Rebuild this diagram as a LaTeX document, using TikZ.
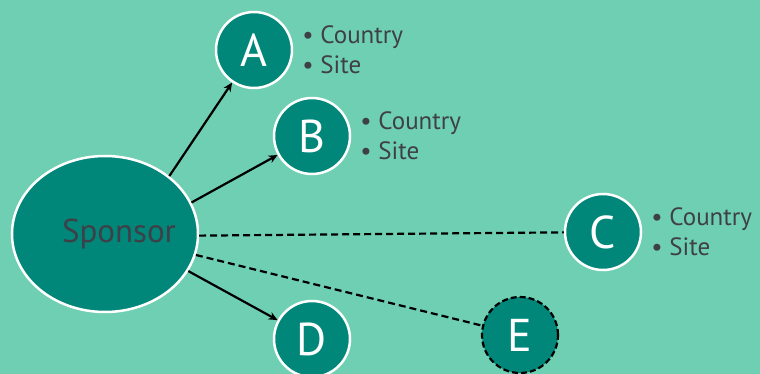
\documentclass[tikz,border=0pt]{standalone}
\usepackage{fontspec}
\setmainfont{PT Sans}
\usetikzlibrary{positioning,shapes.geometric,arrows.meta}
\definecolor{bgmint}{RGB}{111,207,178}
\definecolor{tealfill}{RGB}{0,135,122}
\definecolor{darktext}{RGB}{62,64,72}
\tikzset{
  party/.style={circle, fill=tealfill, draw=white, line width=2.5pt,
    minimum size=76pt, inner sep=0pt, text=white, font=\fontsize{46}{50}\selectfont},
  info/.style={right=9pt of #1, inner sep=0pt, align=left, text=darktext,
    font=\fontsize{25}{30}\selectfont},
  link/.style={line width=2.2pt, -{Stealth[length=9pt,width=8pt]}},
  plink/.style={line width=2.2pt, dash pattern=on 7pt off 4pt}
}
\begin{document}
\begin{tikzpicture}[x=1pt,y=-1pt]
  \fill[bgmint] (0,0) rectangle (760,374);
  \useasboundingbox (0,0) rectangle (760,374);
      \node[ellipse, fill=tealfill, draw=white, line width=2.5pt,
        minimum width=186pt, minimum height=156pt,
        label={[text=darktext, font=\fontsize{33}{36}\selectfont, xshift=14pt]center:Sponsor}]
        (sponsor) at (105,234) {};
      \node[party] (A) at (254,50) {A};
      \node[party] (B) at (312,136) {B};
      \node[party] (C) at (603,232) {C};
      \node[party] (D) at (312,339) {D};
      \node[party, draw=black, dash pattern=on 6pt off 3pt, line width=2.2pt] (E) at (520,335) {E};
      % country / site lists
      \node[info=A] (Ainfo) {• Country\\• Site};
      \node[info=B] (Binfo) {• Country\\• Site};
      \node[info=C] (Cinfo) {• Country\\• Site};
      % connectors
      \draw[link] (sponsor.42) -- (A);
      \draw[link] (sponsor.20) -- (B);
      \draw[link] (sponsor.-24) -- (D);
      \draw[plink] (sponsor.-1) -- (C);
      \draw[plink] (sponsor.-13) -- (E);
\end{tikzpicture}
\end{document}
